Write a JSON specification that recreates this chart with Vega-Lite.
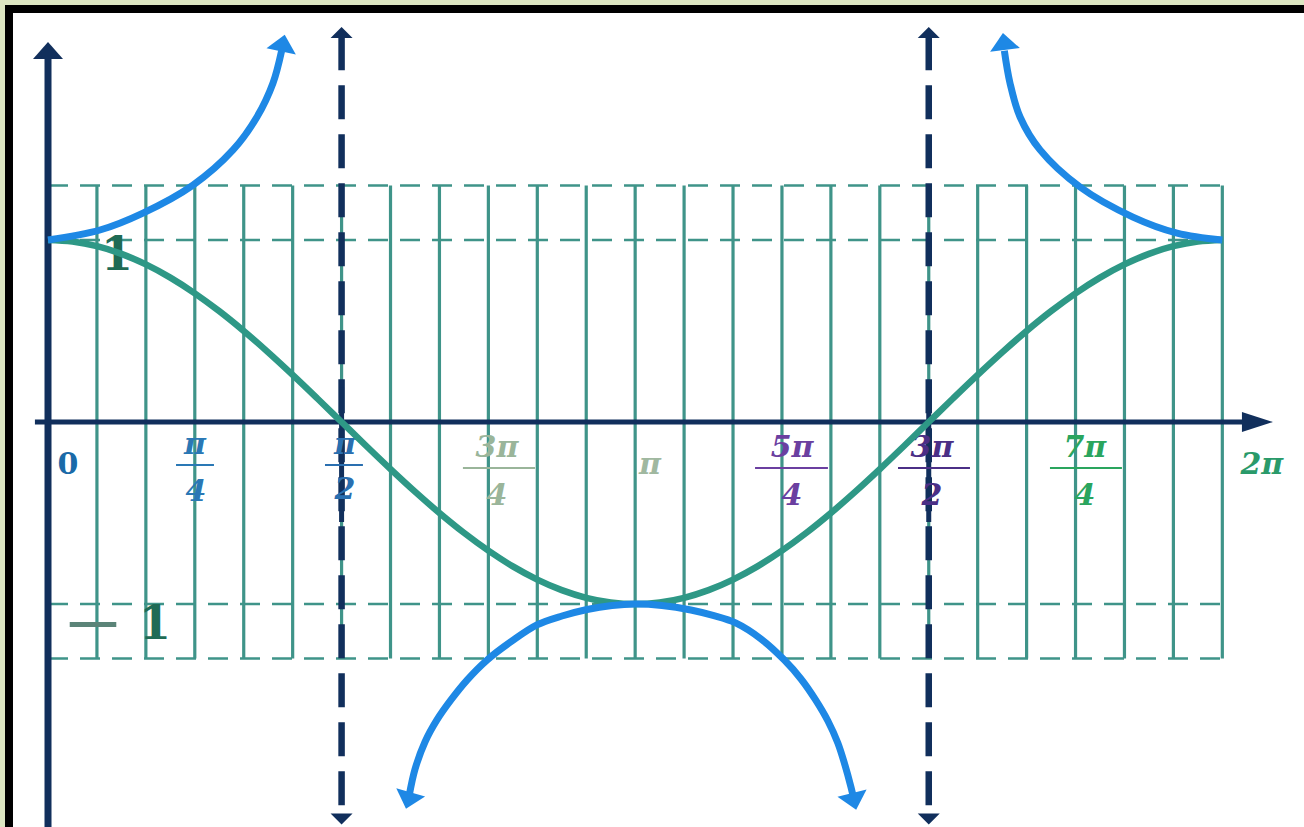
{
  "$schema": "https://vega.github.io/schema/vega-lite/v6.json",
  "width": 1304,
  "height": 827,
  "autosize": {"type": "fit", "contains": "padding"},
  "padding": {"left": 5, "top": 5, "right": 0, "bottom": 0},
  "background": "#dde6c2",
  "config": {"view": {"stroke": null, "fill": "#ffffff"}},
  "datasets": {
    "gridv": [
      {"t": 0.2618, "v": -1.3, "v2": 1.3}, {"t": 0.5236, "v": -1.3, "v2": 1.3}, {"t": 0.7854, "v": -1.3, "v2": 1.3},
      {"t": 1.0472, "v": -1.3, "v2": 1.3}, {"t": 1.309, "v": -1.3, "v2": 1.3}, {"t": 1.5708, "v": -1.3, "v2": 1.3},
      {"t": 1.8326, "v": -1.3, "v2": 1.3}, {"t": 2.0944, "v": -1.3, "v2": 1.3}, {"t": 2.3562, "v": -1.3, "v2": 1.3},
      {"t": 2.618, "v": -1.3, "v2": 1.3}, {"t": 2.8798, "v": -1.3, "v2": 1.3}, {"t": 3.1416, "v": -1.3, "v2": 1.3},
      {"t": 3.4034, "v": -1.3, "v2": 1.3}, {"t": 3.6652, "v": -1.3, "v2": 1.3}, {"t": 3.927, "v": -1.3, "v2": 1.3},
      {"t": 4.1888, "v": -1.3, "v2": 1.3}, {"t": 4.4506, "v": -1.3, "v2": 1.3}, {"t": 4.7124, "v": -1.3, "v2": 1.3},
      {"t": 4.9742, "v": -1.3, "v2": 1.3}, {"t": 5.236, "v": -1.3, "v2": 1.3}, {"t": 5.4978, "v": -1.3, "v2": 1.3},
      {"t": 5.7596, "v": -1.3, "v2": 1.3}, {"t": 6.0214, "v": -1.3, "v2": 1.3}, {"t": 6.2832, "v": -1.3, "v2": 1.3}
    ],
    "gridh": [
      {"t": 0, "t2": 6.2832, "v": 1.3}, {"t": 0, "t2": 6.2832, "v": 1},
      {"t": 0, "t2": 6.2832, "v": -1}, {"t": 0, "t2": 6.2832, "v": -1.3}
    ],
    "framev": [{"t": -0.2087, "v": -2.2253, "v2": 2.2912}],
    "frameh": [{"t": -0.2301, "t2": 6.7202, "v": 2.269}],
    "yaxis": [{"t": 0, "v": -2.2253, "v2": 2.0}],
    "xaxis": [{"t": -0.07, "t2": 6.42, "v": 0}],
    "asym": [{"t": 1.5708, "v": 2.12, "v2": -2.165}, {"t": 4.7124, "v": 2.12, "v2": -2.165}],
    "asymsolid": [{"t": 1.5708, "v": 0.19, "v2": -0.55}, {"t": 4.7124, "v": 0.19, "v2": -0.55}],
    "cos": [
      {"t": 0, "v": 1}, {"t": 0.1309, "v": 0.9914}, {"t": 0.2618, "v": 0.9659}, {"t": 0.3927, "v": 0.9239},
      {"t": 0.5236, "v": 0.866}, {"t": 0.6545, "v": 0.7934}, {"t": 0.7854, "v": 0.7071}, {"t": 0.9163, "v": 0.6088},
      {"t": 1.0472, "v": 0.5}, {"t": 1.1781, "v": 0.3827}, {"t": 1.309, "v": 0.2588}, {"t": 1.4399, "v": 0.1305},
      {"t": 1.5708, "v": 0}, {"t": 1.7017, "v": -0.1305}, {"t": 1.8326, "v": -0.2588}, {"t": 1.9635, "v": -0.3827},
      {"t": 2.0944, "v": -0.5}, {"t": 2.2253, "v": -0.6088}, {"t": 2.3562, "v": -0.7071}, {"t": 2.4871, "v": -0.7934},
      {"t": 2.618, "v": -0.866}, {"t": 2.7489, "v": -0.9239}, {"t": 2.8798, "v": -0.9659}, {"t": 3.0107, "v": -0.9914},
      {"t": 3.1416, "v": -1}, {"t": 3.2725, "v": -0.9914}, {"t": 3.4034, "v": -0.9659}, {"t": 3.5343, "v": -0.9239},
      {"t": 3.6652, "v": -0.866}, {"t": 3.7961, "v": -0.7934}, {"t": 3.927, "v": -0.7071}, {"t": 4.0579, "v": -0.6088},
      {"t": 4.1888, "v": -0.5}, {"t": 4.3197, "v": -0.3827}, {"t": 4.4506, "v": -0.2588}, {"t": 4.5815, "v": -0.1305},
      {"t": 4.7124, "v": 0}, {"t": 4.8433, "v": 0.1305}, {"t": 4.9742, "v": 0.2588}, {"t": 5.1051, "v": 0.3827},
      {"t": 5.236, "v": 0.5}, {"t": 5.3669, "v": 0.6088}, {"t": 5.4978, "v": 0.7071}, {"t": 5.6287, "v": 0.7934},
      {"t": 5.7596, "v": 0.866}, {"t": 5.8905, "v": 0.9239}, {"t": 6.0214, "v": 0.9659}, {"t": 6.1523, "v": 0.9914},
      {"t": 6.2832, "v": 1}
    ],
    "sec": [
      {"branch": "a", "t": 0, "v": 1.0}, {"branch": "a", "t": 0.278, "v": 1.055}, {"branch": "a", "t": 0.508, "v": 1.148},
      {"branch": "a", "t": 0.776, "v": 1.302}, {"branch": "a", "t": 0.99, "v": 1.495}, {"branch": "a", "t": 1.118, "v": 1.676},
      {"branch": "a", "t": 1.204, "v": 1.863}, {"branch": "a", "t": 1.25, "v": 2.04},
      {"branch": "b", "t": 5.117, "v": 2.04}, {"branch": "b", "t": 5.147, "v": 1.863}, {"branch": "b", "t": 5.201, "v": 1.676},
      {"branch": "b", "t": 5.308, "v": 1.495}, {"branch": "b", "t": 5.522, "v": 1.291}, {"branch": "b", "t": 5.805, "v": 1.126},
      {"branch": "b", "t": 6.041, "v": 1.038}, {"branch": "b", "t": 6.2832, "v": 1.0},
      {"branch": "c", "t": 1.932, "v": -2.055}, {"branch": "c", "t": 1.964, "v": -1.907}, {"branch": "c", "t": 2.017, "v": -1.758},
      {"branch": "c", "t": 2.081, "v": -1.637}, {"branch": "c", "t": 2.156, "v": -1.527}, {"branch": "c", "t": 2.242, "v": -1.418},
      {"branch": "c", "t": 2.349, "v": -1.308}, {"branch": "c", "t": 2.483, "v": -1.203}, {"branch": "c", "t": 2.616, "v": -1.115},
      {"branch": "c", "t": 2.75, "v": -1.066}, {"branch": "c", "t": 2.884, "v": -1.03}, {"branch": "c", "t": 3.018, "v": -1.008},
      {"branch": "c", "t": 3.1416, "v": -1.0}, {"branch": "c", "t": 3.285, "v": -1.008}, {"branch": "c", "t": 3.44, "v": -1.033},
      {"branch": "c", "t": 3.558, "v": -1.063}, {"branch": "c", "t": 3.679, "v": -1.104}, {"branch": "c", "t": 3.815, "v": -1.192},
      {"branch": "c", "t": 3.94, "v": -1.308}, {"branch": "c", "t": 4.029, "v": -1.412}, {"branch": "c", "t": 4.107, "v": -1.527},
      {"branch": "c", "t": 4.173, "v": -1.643}, {"branch": "c", "t": 4.226, "v": -1.764}, {"branch": "c", "t": 4.264, "v": -1.885},
      {"branch": "c", "t": 4.296, "v": -2.005}, {"branch": "c", "t": 4.31, "v": -2.066}
    ],
    "arrowsasym": [
      {"t": 1.5708, "v": 2.14, "heading": 0}, {"t": 4.7124, "v": 2.14, "heading": 0},
      {"t": 1.5708, "v": -2.181, "heading": 180}, {"t": 4.7124, "v": -2.181, "heading": 180}
    ],
    "arrowy": [{"t": 0, "v": 2.041, "heading": 0}],
    "arrowx": [{"t": 6.471, "v": 0, "heading": 90}],
    "arrowssec": [
      {"t": 1.257, "v": 2.082, "heading": 12}, {"t": 5.115, "v": 2.091, "heading": -7},
      {"t": 1.928, "v": -2.08, "heading": 196}, {"t": 4.313, "v": -2.085, "heading": 166}
    ],
    "ticks": [
      {"t": 0.787, "v": -0.126, "label": "π", "tick": "π/4"},
      {"t": 0.792, "v": -0.385, "label": "4", "tick": "π/4"},
      {"t": 1.589, "v": -0.126, "label": "π", "tick": "π/2"},
      {"t": 1.589, "v": -0.374, "label": "2", "tick": "π/2"},
      {"t": 2.402, "v": -0.143, "label": "3π", "tick": "3π/4"},
      {"t": 2.402, "v": -0.407, "label": "4", "tick": "3π/4"},
      {"t": 3.221, "v": -0.236, "label": "π", "tick": "π"},
      {"t": 3.981, "v": -0.143, "label": "5π", "tick": "5π/4"},
      {"t": 3.981, "v": -0.407, "label": "4", "tick": "5π/4"},
      {"t": 4.73, "v": -0.143, "label": "3π", "tick": "3π/2"},
      {"t": 4.73, "v": -0.407, "label": "2", "tick": "3π/2"},
      {"t": 5.548, "v": -0.143, "label": "7π", "tick": "7π/4"},
      {"t": 5.548, "v": -0.407, "label": "4", "tick": "7π/4"},
      {"t": 6.495, "v": -0.236, "label": "2π", "tick": "2π"}
    ],
    "zero": [
      {"t": 0.107, "v": -0.236, "label": "0", "tick": "0"}
    ],
    "bars": [
      {"t": 0.685, "t2": 0.888, "v": -0.236, "tick": "π/4"},
      {"t": 1.482, "t2": 1.685, "v": -0.236, "tick": "π/2"},
      {"t": 2.22, "t2": 2.606, "v": -0.253, "tick": "3π/4"},
      {"t": 3.783, "t2": 4.173, "v": -0.253, "tick": "5π/4"},
      {"t": 4.548, "t2": 4.933, "v": -0.253, "tick": "3π/2"},
      {"t": 5.361, "t2": 5.746, "v": -0.253, "tick": "7π/4"}
    ],
    "big": [
      {"t": 0.369, "v": 0.912, "label": "1"},
      {"t": 0.573, "v": -1.115, "label": "1"}
    ],
    "minus": [
      {"t": 0.241, "v": -1.13, "label": "−"}
    ]
  },
  "encoding": {
    "x": {"field": "t", "type": "quantitative", "scale": {"domain": [-0.2301, 6.7202], "nice": false, "zero": false}, "axis": null},
    "y": {"field": "v", "type": "quantitative", "scale": {"domain": [-2.2253, 2.2912], "nice": false, "zero": false}, "axis": null}
  },
  "layer": [
    {"data": {"name": "gridv"}, "mark": {"type": "rule", "color": "#3f9489", "strokeWidth": 3.2}, "encoding": {"y2": {"field": "v2"}}},
    {"data": {"name": "gridh"}, "mark": {"type": "rule", "color": "#3f9489", "strokeWidth": 2.5, "strokeDash": [20, 12]}, "encoding": {"x2": {"field": "t2"}}},
    {"data": {"name": "big"}, "mark": {"type": "text", "font": "DejaVu Serif", "fontWeight": "bold", "fontSize": 46, "color": "#1f6b55", "align": "center", "baseline": "middle"}, "encoding": {"text": {"field": "label"}}},
    {"data": {"name": "minus"}, "mark": {"type": "text", "font": "Liberation Serif", "fontWeight": "normal", "fontSize": 100, "color": "#5b8478", "align": "center", "baseline": "middle"}, "encoding": {"text": {"field": "label"}}},
    {"data": {"name": "framev"}, "mark": {"type": "rule", "color": "#000000", "strokeWidth": 8, "clip": true}, "encoding": {"y2": {"field": "v2"}}},
    {"data": {"name": "frameh"}, "mark": {"type": "rule", "color": "#000000", "strokeWidth": 8, "clip": true}, "encoding": {"x2": {"field": "t2"}}},
    {"data": {"name": "yaxis"}, "mark": {"type": "rule", "color": "#112f5c", "strokeWidth": 7, "clip": true}, "encoding": {"y2": {"field": "v2"}}},
    {"data": {"name": "xaxis"}, "mark": {"type": "rule", "color": "#112f5c", "strokeWidth": 5}, "encoding": {"x2": {"field": "t2"}}},
    {"data": {"name": "asym"}, "mark": {"type": "rule", "color": "#112f5c", "strokeWidth": 6.5, "strokeDash": [34, 15]}, "encoding": {"y2": {"field": "v2"}}},
    {"data": {"name": "asymsolid"}, "mark": {"type": "rule", "color": "#112f5c", "strokeWidth": 5}, "encoding": {"y2": {"field": "v2"}}},
    {"data": {"name": "bars"}, "mark": {"type": "rule", "strokeWidth": 2}, "encoding": {"x2": {"field": "t2"},
      "color": {"field": "tick", "type": "nominal", "legend": null, "scale": {"domain": ["0", "π/4", "π/2", "3π/4", "π", "5π/4", "3π/2", "7π/4", "2π"], "range": ["#1a6aa8", "#2a78b5", "#2a6fb0", "#9ab59a", "#a0b8a0", "#6b3fa0", "#4b2f86", "#2aa55e", "#2a9a6a"]}}}},
    {"data": {"name": "ticks"}, "mark": {"type": "text", "font": "DejaVu Serif", "fontWeight": "bold", "fontStyle": "italic", "fontSize": 30, "align": "center", "baseline": "middle"}, "encoding": {"text": {"field": "label"},
      "color": {"field": "tick", "type": "nominal", "legend": null, "scale": {"domain": ["0", "π/4", "π/2", "3π/4", "π", "5π/4", "3π/2", "7π/4", "2π"], "range": ["#1a6aa8", "#2a78b5", "#2a6fb0", "#9ab59a", "#a0b8a0", "#6b3fa0", "#4b2f86", "#2aa55e", "#2a9a6a"]}}}},
    {"data": {"name": "zero"}, "mark": {"type": "text", "font": "DejaVu Serif", "fontWeight": "bold", "fontSize": 30, "color": "#1a6aa8", "align": "center", "baseline": "middle"}, "encoding": {"text": {"field": "label"}}},
    {"data": {"name": "cos"}, "mark": {"type": "line", "color": "#2e9886", "strokeWidth": 6.5, "interpolate": "monotone"}, "encoding": {}},
    {"data": {"name": "sec"}, "mark": {"type": "line", "color": "#1e88e5", "strokeWidth": 7, "interpolate": "catmull-rom", "strokeCap": "butt"}, "encoding": {"detail": {"field": "branch"}}},
    {"data": {"name": "arrowsasym"}, "mark": {"type": "point", "filled": true, "opacity": 1, "color": "#112f5c", "shape": "M-1,0.5L0,-0.5L1,0.5Z", "size": 484}, "encoding": {"angle": {"field": "heading", "type": "quantitative", "scale": null}}},
    {"data": {"name": "arrowy"}, "mark": {"type": "point", "filled": true, "opacity": 1, "color": "#112f5c", "shape": "M-1,0.57L0,-0.57L1,0.57Z", "size": 900}, "encoding": {"angle": {"field": "heading", "type": "quantitative", "scale": null}}},
    {"data": {"name": "arrowx"}, "mark": {"type": "point", "filled": true, "opacity": 1, "color": "#112f5c", "shape": "M-0.65,1L0,-1L0.65,1Z", "size": 961}, "encoding": {"angle": {"field": "heading", "type": "quantitative", "scale": null}}},
    {"data": {"name": "arrowssec"}, "mark": {"type": "point", "filled": true, "opacity": 1, "color": "#1e88e5", "shape": "M-1,0.57L0,-0.57L1,0.57Z", "size": 900}, "encoding": {"angle": {"field": "heading", "type": "quantitative", "scale": null}}}
  ]
}
